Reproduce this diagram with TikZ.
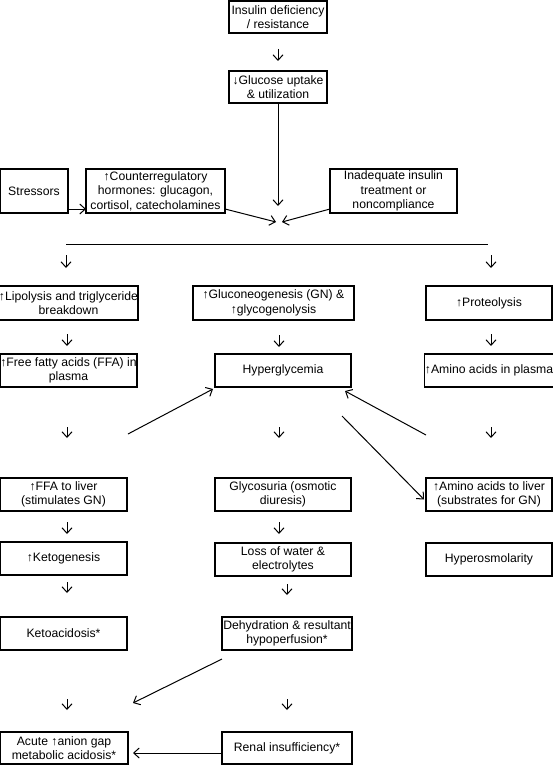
\documentclass[tikz,border=0pt]{standalone}
\usepackage{fontspec}
\setmainfont{Liberation Sans}
\usetikzlibrary{arrows.meta}
\begin{document}
\begin{tikzpicture}[x=1pt,y=-1pt,
  box/.style={draw=black, line width=1.1pt, inner sep=0pt, outer sep=0pt, align=center,
    font=\fontsize{12.2}{14.5}\selectfont},
  arr/.style={line width=1pt, -{Straight Barb[length=5.5pt,width=10pt,line width=1pt]}},
  ln/.style={line width=1pt}]
\useasboundingbox (0,0) rectangle (553,765);
% top
\node[box, minimum width=98pt, minimum height=32pt] (ins) at (278,17) {Insulin deficiency\\/ resistance};
\node[box, minimum width=98pt, minimum height=32pt] (glu) at (278,87) {↓Glucose uptake\\\& utilization};
\node[box, minimum width=68pt, minimum height=44pt] (str) at (34,191) {Stressors};
\node[box, minimum width=139pt, minimum height=44pt] (cnt) at (155.5,191) {↑Counterregulatory\\hormones: glucagon,\\cortisol, catecholamines};
\node[box, minimum width=127pt, minimum height=44pt] (inad) at (393.5,191) {Inadequate insulin\\treatment or\\noncompliance};
% row 3
\node[box, minimum width=137pt, minimum height=34pt] (lip) at (68.5,303) {↑Lipolysis and triglyceride\\breakdown};
\node[box, minimum width=161pt, minimum height=34pt] (gng) at (273.5,303) {↑Gluconeogenesis (GN) \&\\↑glycogenolysis};
\node[box, minimum width=126pt, minimum height=34pt] (pro) at (489,303) {↑Proteolysis};
% row 4
\node[box, minimum width=137pt, minimum height=33pt] (ffa) at (68.5,370.5) {↑Free fatty acids (FFA) in\\plasma};
\node[box, minimum width=136pt, minimum height=33pt] (hyp) at (283,370.5) {Hyperglycemia};
\node[box, minimum width=126pt, minimum height=33pt] (amp) at (489,370.5) {↑Amino acids in plasma};
% row 5
\node[box, minimum width=127pt, minimum height=33pt] (ffl) at (63.5,494.5) {↑FFA to liver\\(stimulates GN)};
\node[box, minimum width=136pt, minimum height=33pt] (gly) at (283,494.5) {Glycosuria (osmotic\\diuresis)};
\node[box, minimum width=126pt, minimum height=33pt] (aml) at (489,494.5) {↑Amino acids to liver\\(substrates for GN)};
% row 6
\node[box, minimum width=127pt, minimum height=33pt] (ket) at (63.5,558.5) {↑Ketogenesis};
\node[box, minimum width=136pt, minimum height=33pt] (low) at (283,559.5) {Loss of water \&\\electrolytes};
\node[box, minimum width=126pt, minimum height=33pt] (hos) at (489,559.5) {Hyperosmolarity};
% row 7
\node[box, minimum width=127pt, minimum height=33pt] (kac) at (63.5,633.5) {Ketoacidosis*};
\node[box, minimum width=130pt, minimum height=33pt] (deh) at (287,633.5) {Dehydration \& resultant\\hypoperfusion*};
% row 8
\node[box, minimum width=128pt, minimum height=32pt] (acu) at (64,748) {Acute ↑anion gap\\metabolic acidosis*};
\node[box, minimum width=130pt, minimum height=32pt] (ren) at (287,748) {Renal insufficiency*};
% coordinates
\coordinate (colL) at (67,0);
\coordinate (colM) at (279,0);
\coordinate (colN) at (287,0);
\coordinate (colR) at (491,0);
\coordinate (c1) at (278,206);
\coordinate (cl) at (276,222);
\coordinate (cr) at (282,222);
\coordinate (hl) at (66,244);
\coordinate (hr) at (488,244);
\coordinate (t1) at (128,434);
\coordinate (t2) at (426,435);
\coordinate (t3) at (342,416);
\coordinate (t4) at (133,703);
% top connectors
\draw[arr, shorten <=16pt, shorten >=10pt] (ins) -- (glu);
\draw[arr] (glu.south) -- (c1);
\draw[arr] ([yshift=4pt]str.south east) -- ([yshift=4pt]cnt.south west);
\draw[arr] ([yshift=4pt]cnt.south east) -- (cl);
\draw[arr] ([yshift=4pt]inad.south west) -- (cr);
\draw[ln] (hl) -- (hr);
\draw[arr, shorten <=11pt, shorten >=18pt] (hl) -- (hl |- lip.north);
\draw[arr, shorten <=11pt, shorten >=18pt] (hr -| colR) -- (pro.north -| colR);
% left column
\draw[arr, shorten <=14pt, shorten >=8pt] (lip.south -| colL) -- (ffa.north -| colL);
\draw[arr, shorten <=40pt, shorten >=40pt] (ffa.south -| colL) -- (ffl.north -| colL);
\draw[arr, shorten <=11pt, shorten >=8pt] (ffl.south -| colL) -- (ket.north -| colL);
\draw[arr, shorten <=7pt, shorten >=24pt] (ket.south -| colL) -- (kac.north -| colL);
\draw[arr, shorten <=49pt, shorten >=22pt] (kac.south -| colL) -- (acu.north -| colL);
% middle column
\draw[arr, shorten <=15pt, shorten >=7pt] (gng.south -| colM) -- (hyp.north -| colM);
\draw[arr, shorten <=40pt, shorten >=40pt] (hyp.south -| colM) -- (gly.north -| colM);
\draw[arr, shorten <=11pt, shorten >=9pt] (gly.south -| colM) -- (low.north -| colM);
\draw[arr, shorten <=8pt, shorten >=22pt] (low.south -| colN) -- (deh.north -| colN);
\draw[arr, shorten <=49pt, shorten >=22pt] (deh.south -| colN) -- (ren.north -| colN);
% right column
\draw[arr, shorten <=14pt, shorten >=8pt] (pro.south -| colR) -- (amp.north -| colR);
\draw[arr, shorten <=40pt, shorten >=40pt] (amp.south -| colR) -- (aml.north -| colR);
% diagonals
\draw[arr] (t1) -- ([xshift=-2pt,yshift=-2pt]hyp.south west);
\draw[arr] (t2) -- ([xshift=-6pt,yshift=-4pt]hyp.south east);
\draw[arr] (t3) -- ([xshift=-2pt,yshift=-5pt]aml.west);
\draw[arr] ([yshift=-9pt]deh.south west) -- (t4);
\draw[arr] ([yshift=-5pt]ren.west) -- ([xshift=5pt,yshift=-5pt]acu.east);
\end{tikzpicture}
\end{document}
